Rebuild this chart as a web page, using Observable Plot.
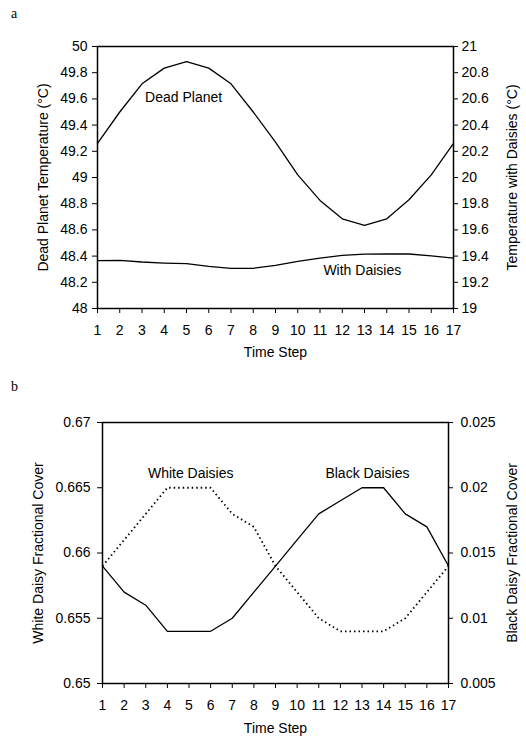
<!DOCTYPE html>
<html><head><meta charset="utf-8">
<script src="https://cdn.jsdelivr.net/npm/d3@7"></script>
<script src="https://cdn.jsdelivr.net/npm/@observablehq/plot@0.6"></script>
<style>
body{margin:0;background:#fff;}
#wrap{position:relative;width:526px;height:738px;overflow:hidden;}
.panel{position:absolute;left:0;}
.tag{position:absolute;font-family:"Liberation Serif","DejaVu Serif",serif;font-size:14px;color:#000;}
</style></head><body>
<div id="wrap">
  <div id="pa" class="panel" style="top:0"></div>
  <div id="pb" class="panel" style="top:370px"></div>
  <div class="tag" style="left:11px;top:6px">a</div>
  <div class="tag" style="left:11px;top:379px">b</div>
</div>
<script>
// ---------- data ----------
const timeSteps = [1,2,3,4,5,6,7,8,9,10,11,12,13,14,15,16,17];
const deadPlanet = [49.26,49.50,49.715,49.835,49.885,49.835,49.715,49.50,49.27,49.02,48.825,48.685,48.635,48.685,48.83,49.02,49.26];
const withDaisies = [19.366,19.367,19.355,19.347,19.342,19.322,19.307,19.307,19.33,19.36,19.385,19.405,19.415,19.416,19.416,19.402,19.385];
const whiteDaisies = [0.659,0.661,0.663,0.665,0.665,0.665,0.663,0.662,0.659,0.657,0.655,0.654,0.654,0.654,0.655,0.657,0.659];
const blackDaisies = [0.014,0.012,0.011,0.009,0.009,0.009,0.010,0.012,0.014,0.016,0.018,0.019,0.020,0.020,0.018,0.017,0.014];
const tempLeftTicks = [48,48.2,48.4,48.6,48.8,49,49.2,49.4,49.6,49.8,50];
const tempRightTicks = [19,19.2,19.4,19.6,19.8,20,20.2,20.4,20.6,20.8,21];
const coverLeftTicks = [0.65,0.655,0.66,0.665,0.67];
const coverRightTicks = [0.005,0.01,0.015,0.02,0.025];
const labelsA = [{x:4.87,y:49.61,text:"Dead Planet"},{x:12.9,y:48.29,text:"With Daisies"}];
const labelsB = [{x:5.08,y:0.6661,text:"White Daisies"},{x:13.25,y:0.6661,text:"Black Daisies"}];

const FONT = "'Liberation Sans', Arial, Helvetica, sans-serif";
const fmt = v => String(+v.toFixed(4));

function panel({height, margins, leftTicks, rightTicks, marks, leftTitle, rightTitle, labels, lp, rp, ldx, rdx, tdy}) {
  const L0 = leftTicks[0], L1 = leftTicks[leftTicks.length-1];
  const R0 = rightTicks[0], R1 = rightTicks[rightTicks.length-1];
  const toLeft = r => L0 + (r - R0) * (L1 - L0) / (R1 - R0);
  const toRight = l => R0 + (l - L0) * (R1 - R0) / (L1 - L0);
  const title = {fontSize: 14, textAnchor: "middle", lineAnchor: "middle"};
  return Plot.plot({
    width: 526, height,
    marginLeft: margins[0], marginRight: margins[1], marginTop: margins[2], marginBottom: margins[3],
    style: {fontFamily: FONT, fontSize: "14px", color: "black", background: "white"},
    x: {domain: [1, 17]},
    y: {domain: [L0, L1]},
    marks: [
      Plot.frame({stroke: "black", strokeWidth: 1.5}),
      Plot.axisX(timeSteps, {tickSize: 5, tickPadding: 12, label: null, fontSize: 14, tickFormat: d => String(d)}),
      Plot.axisY(leftTicks, {anchor: "left", tickSize: 5, tickPadding: lp, label: null, fontSize: 14, tickFormat: fmt}),
      Plot.axisY(rightTicks.map(toLeft), {anchor: "right", tickSize: 4, tickPadding: rp, label: null, fontSize: 14, tickFormat: d => fmt(toRight(d))}),
      ...marks(toLeft),
      Plot.text(labels, {x: "x", y: "y", text: "text", fontSize: 14}),
      Plot.text([leftTitle], {frameAnchor: "left", rotate: -90, dx: ldx, ...title}),
      Plot.text([rightTitle], {frameAnchor: "right", rotate: -90, dx: rdx, ...title}),
      Plot.text(["Time Step"], {frameAnchor: "bottom", dy: tdy, ...title})
    ]
  });
}

const rowsA = timeSteps.map((t, i) => ({t, dead: deadPlanet[i], daisies: withDaisies[i]}));
const rowsB = timeSteps.map((t, i) => ({t, white: whiteDaisies[i], black: blackDaisies[i]}));

document.getElementById("pa").append(panel({
  height: 370, margins: [97, 73, 46, 62],
  leftTicks: tempLeftTicks, rightTicks: tempRightTicks, lp: 5, rp: 4, ldx: -54, rdx: 59, tdy: 44,
  leftTitle: "Dead Planet Temperature (°C)", rightTitle: "Temperature with Daisies (°C)",
  labels: labelsA,
  marks: toLeft => [
    Plot.line(rowsA, {x: "t", y: "dead", stroke: "black", strokeWidth: 1.3}),
    Plot.line(rowsA, {x: "t", y: d => toLeft(d.daisies), stroke: "black", strokeWidth: 1.3})
  ]
}));

document.getElementById("pb").append(panel({
  height: 368, margins: [102, 78, 52, 55],
  leftTicks: coverLeftTicks, rightTicks: coverRightTicks, lp: 7, rp: 8, ldx: -64, rdx: 64, tdy: 45,
  leftTitle: "White Daisy Fractional Cover", rightTitle: "Black Daisy Fractional Cover",
  labels: labelsB,
  marks: toLeft => [
    Plot.line(rowsB, {x: "t", y: "white", stroke: "black", strokeWidth: 1.8, strokeDasharray: "1.5,3", strokeLinecap: "butt"}),
    Plot.line(rowsB, {x: "t", y: d => toLeft(d.black), stroke: "black", strokeWidth: 1.3})
  ]
}));
</script>
</body></html>
